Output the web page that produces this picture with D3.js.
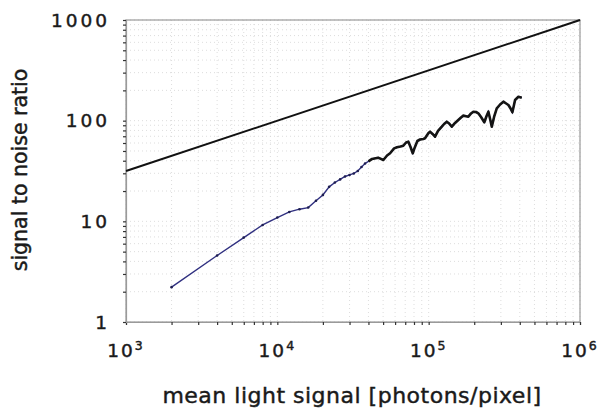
<!DOCTYPE html>
<html>
<head>
<meta charset="utf-8">
<script src="https://cdn.jsdelivr.net/npm/d3@7"></script>
<style>
  body { margin: 0; background: #fff; }
  svg { display: block; }
  .lbl { font-family: "DejaVu Sans", sans-serif; fill: #1a1a1a; stroke: #1a1a1a; stroke-width: 0.45px; }
</style>
</head>
<body>
<div id="chart"></div>
<script>
// measured signal: mean light signal [photons/pixel] vs signal to noise ratio
var signalX = [2000, 4000, 6000, 8000, 10000, 12000, 14000, 16000, 18000, 20000,
    22000, 24000, 26000, 28000, 30000, 32000, 34000, 36000, 38000, 40000,
    42300, 46300, 50200, 53100, 55600, 59100, 61800, 65200, 68000, 70900,
    73400, 75900, 78500, 80700, 84200, 87700, 92200, 94600, 99500, 102100,
    106100, 110200, 115300, 122100, 126500, 131800, 136500, 142200, 149400, 157000,
    163600, 169500, 176500, 182900, 190500, 197300, 205600, 212900, 221800, 233200,
    241300, 248100, 254700, 261300, 270500, 281800, 296500, 311700, 325100, 336500,
    347700, 357400, 372400, 391700, 412300];
var snrValues = [2.22, 4.58, 6.89, 9.2, 10.9, 12.4, 13.2, 13.7, 16.0, 18.3,
    22.0, 24.3, 26.1, 27.9, 28.9, 29.9, 31.6, 34.7, 37.6, 39.4,
    41.7, 42.9, 40.7, 45.1, 47.5, 53.0, 54.5, 55.5, 56.5, 60.7,
    61.9, 54.8, 47.5, 53.6, 62.8, 65.0, 65.8, 66.8, 75.0, 77.8,
    73.8, 69.3, 79.1, 87.1, 92.7, 97.7, 93.8, 87.1, 94.9, 101.6,
    107.6, 112.2, 110.8, 109.6, 118.0, 122.8, 121.9, 118.4, 108.8, 96.4,
    111.4, 122.8, 104.0, 87.1, 108.8, 132.7, 144.8, 154.5, 148.2, 143.2,
    132.1, 121.1, 160.6, 173.0, 169.2];

// ideal (shot-noise limited) curve end points: snr = sqrt(photons)
var idealX = [1000, 1000000];
var idealY = [31.62, 1000];

var xDomain = [1000, 1000000];
var yDomain = [1, 1000];
var xTickExps = [3, 4, 5, 6];
var yTickLabels = [1, 10, 100, 1000];

var width = 599, height = 412;
var margin = {top: 20, right: 19, bottom: 90, left: 126};
var plotW = width - margin.left - margin.right;
var plotH = height - margin.top - margin.bottom;

var svg = d3.select("#chart").append("svg")
    .attr("width", width)
    .attr("height", height);

var g = svg.append("g")
    .attr("transform", "translate(" + margin.left + "," + margin.top + ")");

var x = d3.scaleLog().domain(xDomain).range([0, plotW]);
var y = d3.scaleLog().domain(yDomain).range([plotH, 0]);

// minor positions (2..9 of every decade, plus decades)
var xMinor = x.ticks();
var yMinor = y.ticks();

//dotted grid
g.append("g").selectAll("line.gx")
    .data(xMinor)
    .enter().append("line")
    .attr("x1", function (d) { return x(d); })
    .attr("x2", function (d) { return x(d); })
    .attr("y1", 0).attr("y2", plotH)
    .attr("stroke", "#d4d4d4")
    .attr("stroke-width", 0.8)
    .attr("stroke-dasharray", "1,3");

g.append("g").selectAll("line.gy")
    .data(yMinor)
    .enter().append("line")
    .attr("x1", 0).attr("x2", plotW)
    .attr("y1", function (d) { return y(d); })
    .attr("y2", function (d) { return y(d); })
    .attr("stroke", "#d4d4d4")
    .attr("stroke-width", 0.8)
    .attr("stroke-dasharray", "1,3");

// frame
g.append("rect")
    .attr("x", 0).attr("y", 0)
    .attr("width", plotW).attr("height", plotH)
    .attr("fill", "none")
    .attr("stroke", "#9a9a9a")
    .attr("stroke-width", 1.2);

// axes with small ticks, no labels (labels are drawn by hand below)
var xAxis = d3.axisBottom(x).tickValues(xMinor).tickSize(3).tickFormat("");
var yAxis = d3.axisLeft(y).tickValues(yMinor).tickSize(3).tickFormat("");

var gx = g.append("g").attr("transform", "translate(0," + plotH + ")").call(xAxis);
var gy = g.append("g").call(yAxis);
[gx, gy].forEach(function (ax) {
    ax.select(".domain").attr("stroke", "#9a9a9a").attr("stroke-width", 1.2);
    ax.selectAll(".tick line").attr("stroke", "#333").attr("stroke-width", 1.2);
});

// y labels
g.append("g").selectAll("text")
    .data(yTickLabels)
    .enter().append("text")
    .attr("class", "lbl")
    .attr("x", -16)
    .attr("y", function (d) { return y(d); })
    .attr("dy", "0.36em")
    .attr("text-anchor", "end")
    .attr("font-size", 18.5)
    .attr("letter-spacing", 3)
    .text(function (d) { return d; });

// x labels, 10 with superscript exponent
var xl = g.append("g").selectAll("text")
    .data(xTickExps)
    .enter().append("text")
    .attr("class", "lbl")
    .attr("x", function (d) { return x(Math.pow(10, d)); })
    .attr("y", plotH + 35)
    .attr("text-anchor", "middle")
    .attr("font-size", 18.5)
    .attr("letter-spacing", 2);
xl.append("tspan").text("10");
xl.append("tspan").attr("dy", -7).attr("font-size", 12.5).text(function (d) { return d; });

// axis titles
svg.append("text")
    .attr("class", "lbl")
    .attr("transform", "translate(27," + (margin.top + 150) + ") rotate(-90)")
    .attr("text-anchor", "middle")
    .attr("font-size", 20.5)
    .text("signal to noise ratio");

svg.append("text")
    .attr("class", "lbl")
    .attr("x", 352)
    .attr("y", 403)
    .attr("text-anchor", "middle")
    .attr("font-size", 22)
    .attr("letter-spacing", 0.5)
    .text("mean light signal [photons/pixel]");

// ideal line
var idealData = idealX.map(function (d, i) { return [d, idealY[i]]; });
var line = d3.line()
    .x(function (d) { return x(d[0]); })
    .y(function (d) { return y(d[1]); });

g.append("path")
    .datum(idealData)
    .attr("d", line)
    .attr("fill", "none")
    .attr("stroke", "#111")
    .attr("stroke-width", 2);

// measured data
var measured = signalX.map(function (d, i) { return [d, snrValues[i]]; });

g.append("path")
    .datum(measured)
    .attr("d", line)
    .attr("fill", "none")
    .attr("stroke", "#303080")
    .attr("stroke-width", 1.4);

// dense noisy part looks thick and black
g.append("path")
    .datum(measured.filter(function (d) { return d[0] >= 40000; }))
    .attr("d", line)
    .attr("fill", "none")
    .attr("stroke", "#141414")
    .attr("stroke-width", 2.6)
    .attr("stroke-linejoin", "round");

g.append("g").selectAll("circle")
    .data(measured.filter(function (d) { return d[0] < 40000; }))
    .enter().append("circle")
    .attr("cx", function (d) { return x(d[0]); })
    .attr("cy", function (d) { return y(d[1]); })
    .attr("r", 1.3)
    .attr("fill", "#1e1e50");
</script>
</body>
</html>
